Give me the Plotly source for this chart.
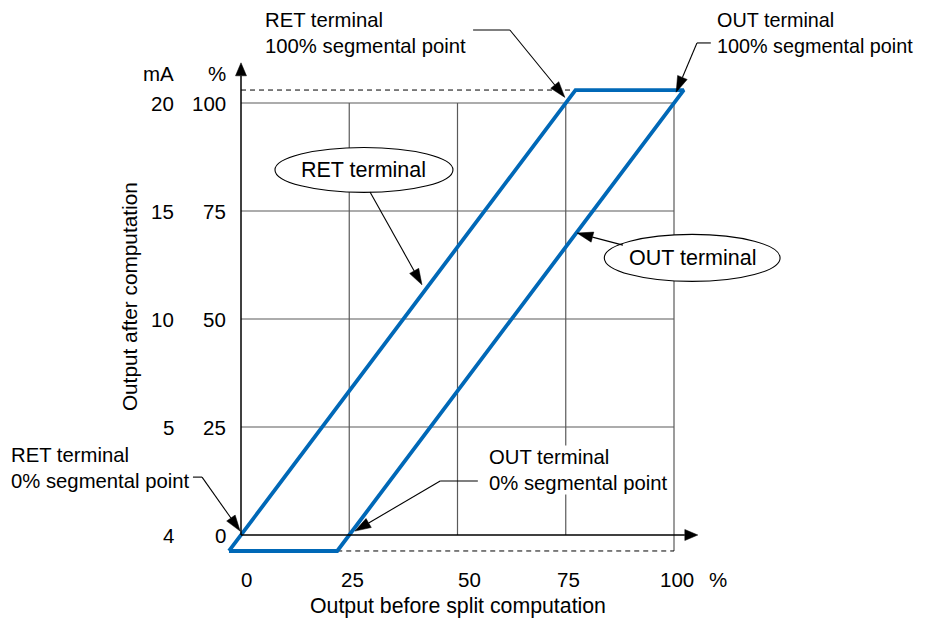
import math
import plotly.graph_objects as go

# ---------------- data ----------------
x_tick_vals = [0, 25, 50, 75, 100]
x_tick_text = ["0", "25", "50", "75", "100"]
y_tick_vals = [0, 25, 50, 75, 100]
y_pct_text = ["0", "25", "50", "75", "100"]
y_mA_text = ["4", "5", "10", "15", "20"]

ret_seg = [0, 75]      # RET terminal 0% / 100% segmental points (input %)
out_seg = [25, 100]    # OUT terminal 0% / 100% segmental points (input %)
out_lo = -3.7          # output lower limit (%)
out_hi = 103.0         # output upper limit (%)


def seg_x(seg, y):
    return seg[0] + (seg[1] - seg[0]) * y / 100.0


ret_x = [seg_x(ret_seg, out_lo), seg_x(ret_seg, out_hi)]
out_x = [seg_x(out_seg, out_lo), seg_x(out_seg, out_hi)]
poly_x = [ret_x[0], out_x[0], out_x[1], ret_x[1], ret_x[0]]
poly_y = [out_lo, out_lo, out_hi, out_hi, out_lo]

# ---------------- layout geometry ----------------
W, H = 926, 619
SX, SY = 4.33, 4.32          # px per unit
X0PX, Y0PX = 241 - 8, 535 - 8  # origin inside the figure (page has 8px body margin)
XR = [-X0PX / SX, (W - X0PX) / SX]
YR = [-(H - Y0PX) / SY, Y0PX / SY]

FONT = "Liberation Sans, Arial, sans-serif"
FS = 20.3
BLUE = "#0068B7"
GRID = "#5a5a5a"

fig = go.Figure()
fig.add_trace(go.Scatter(x=poly_x, y=poly_y, mode="lines",
                         line=dict(color=BLUE, width=3.8),
                         hoverinfo="skip", showlegend=False))

shapes = []
annotations = []

# grid lines
for v in x_tick_vals[1:]:
    y0 = out_lo if v == 100 else 0
    shapes.append(dict(type="line", x0=v, x1=v, y0=y0, y1=100, layer="below",
                       line=dict(color=GRID, width=1.2)))
for v in y_tick_vals[1:]:
    shapes.append(dict(type="line", x0=0, x1=100, y0=v, y1=v, layer="below",
                       line=dict(color=GRID, width=1.2)))

# dashed limit lines
shapes.append(dict(type="line", x0=0, x1=ret_x[1], y0=out_hi, y1=out_hi, layer="below",
                   line=dict(color="black", width=1, dash="5px,4px")))
shapes.append(dict(type="line", x0=out_x[0], x1=100, y0=out_lo, y1=out_lo, layer="below",
                   line=dict(color="black", width=1, dash="5px,4px")))


def tri(tx, ty, ux, uy, L, Wd):
    bx, by = -ux * L, -uy * L
    px, py = -uy * Wd, ux * Wd
    pts = [(0, 0), (bx + px, by + py), (bx - px, by - py)]
    path = "M " + " L ".join(f"{tx + a / SX},{ty + b / SY}" for a, b in pts) + " Z"
    return dict(type="path", path=path, fillcolor="black",
                line=dict(color="black", width=0.5), layer="above")


def arrow(x0, y0, x1, y1, L=16, Wd=5.2, lw=1.1):
    dxp, dyp = (x1 - x0) * SX, (y1 - y0) * SY
    d = math.hypot(dxp, dyp)
    ux, uy = dxp / d, dyp / d
    bx, by = x1 - ux * L / SX, y1 - uy * L / SY
    shapes.append(dict(type="line", x0=x0, y0=y0, x1=bx, y1=by, layer="above",
                       line=dict(color="black", width=lw)))
    shapes.append(tri(x1, y1, ux, uy, L, Wd))


# axes with arrows
arrow(0, 0, 105.5, 0, L=13, Wd=5.5, lw=1.5)
arrow(0, 0, 0, 109.3, L=13, Wd=5.5, lw=1.5)

# ellipses
shapes.append(dict(type="circle", x0=7.85, x1=48.95, y0=79.3, y1=89.7, layer="above",
                   fillcolor="white", line=dict(color="black", width=1.1)))
shapes.append(dict(type="circle", x0=83.9, x1=124.5, y0=58.7, y1=69.6, layer="above",
                   fillcolor="white", line=dict(color="black", width=1.1)))

# leader lines + arrows
shapes.append(dict(type="line", x0=53.6, x1=62.1, y0=116.9, y1=116.9, layer="above",
                   line=dict(color="black", width=1.1)))
arrow(62.1, 116.9, 74.8, 101.3)
shapes.append(dict(type="line", x0=108.5, x1=105.3, y0=113.9, y1=113.9, layer="above",
                   line=dict(color="black", width=1.1)))
arrow(105.3, 113.9, 100.5, 102.5)
arrow(29.8, 79.4, 41.8, 57.9)
arrow(88.2, 67.1, 77.6, 69.9)
shapes.append(dict(type="line", x0=-11.1, x1=-9.0, y0=13.4, y1=13.4, layer="above",
                   line=dict(color="black", width=1.1)))
arrow(-9.0, 13.4, -0.2, 0.9)
shapes.append(dict(type="line", x0=54.7, x1=46.0, y0=12.5, y1=12.5, layer="above",
                   line=dict(color="black", width=1.1)))
arrow(46.0, 12.5, 26.3, 0.9)


def text(x, y, s, xanchor="center", bg=None, size=FS, **kw):
    d = dict(x=x, y=y, text=s, showarrow=False, xanchor=xanchor, yanchor="middle",
             align="left", borderpad=0, font=dict(family=FONT, size=size, color="black"))
    if bg:
        d["bgcolor"] = bg
    d.update(kw)
    annotations.append(d)


# tick labels
x_label_shift = [5, 3, 12, 3, 3]
for v, t, s in zip(x_tick_vals, x_tick_text, x_label_shift):
    text(v, 0, t, xshift=s, yshift=-44, size=20.5)
text(100, 0, "%", xshift=44, yshift=-44, size=20.5)
for v, t in zip(y_tick_vals, y_pct_text):
    text(0, v, t, xanchor="right", xshift=-14, size=20.5)
for v, t in zip(y_tick_vals, y_mA_text):
    text(0, v, t, xanchor="right", xshift=-66, size=20.5)
text(0, 106.9, "%", xanchor="right", xshift=-14, size=20.5)
text(0, 106.9, "mA", xanchor="right", xshift=-66, size=20.5)

# axis titles
text(50.0, -16.4, "Output before split computation", size=21.3)
text(-25.6, 55.1, "Output after computation", textangle=-90, size=20.8)

# callouts
text(5.3, 116.1, "RET terminal<br>100% segmental point", xanchor="left")
text(109.8, 116.1, "OUT terminal<br>100% segmental point", xanchor="left", size=19.8)
text(28.4, 84.5, "RET terminal", size=21.5)
text(104.2, 64.1, "OUT terminal", size=21.5)
text(-53.3, 15.5, "RET terminal<br>0% segmental point", xanchor="left")
text(57.0, 15.0, "OUT terminal<br>0% segmental point", xanchor="left", bg="white")

fig.update_layout(
    width=W, height=H,
    margin=dict(l=0, r=0, t=0, b=0),
    paper_bgcolor="white", plot_bgcolor="white",
    xaxis=dict(range=XR, visible=False, fixedrange=True),
    yaxis=dict(range=YR, visible=False, fixedrange=True),
    shapes=shapes, annotations=annotations, showlegend=False,
)

fig.write_html("out.html")
